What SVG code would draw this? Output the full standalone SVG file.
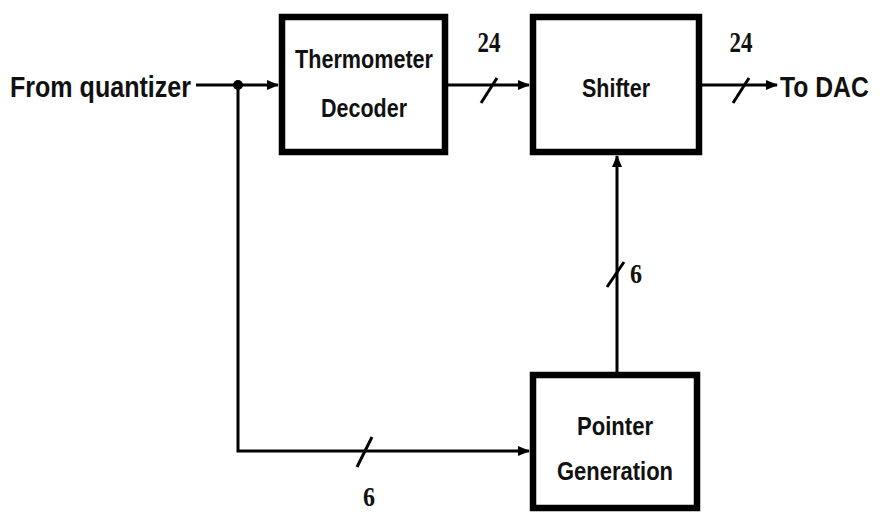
<svg xmlns="http://www.w3.org/2000/svg" width="880" height="512" viewBox="0 0 880 512">
<defs>
<marker id="arr" markerWidth="12" markerHeight="10" refX="11" refY="5" orient="auto" markerUnits="userSpaceOnUse">
<path d="M0,0 L12,5 L0,10 Z" fill="#000"/>
</marker>
<style>
.box{fill:#fff;stroke:#000;stroke-width:6.5}
.ln{fill:none;stroke:#000;stroke-width:3}
.sl{stroke:#000;stroke-width:3}
.lbl{font-family:"Liberation Sans",Arial,sans-serif;font-weight:bold;fill:#111}
.num{font-family:"Liberation Serif","Times New Roman",serif;font-weight:bold;fill:#111}
</style>
</defs>
<rect width="880" height="512" fill="#fff"/>
<g id="connectors">
<line class="ln" x1="196" y1="85" x2="278" y2="85" marker-end="url(#arr)"/>
<circle cx="238" cy="85" r="5" fill="#000"/>
<polyline class="ln" points="238,85 238,451 529,451" marker-end="url(#arr)"/>
<line class="ln" x1="448" y1="85" x2="529" y2="85" marker-end="url(#arr)"/>
<line class="ln" x1="702" y1="85" x2="777" y2="85" marker-end="url(#arr)"/>
<line class="ln" x1="617" y1="372" x2="617" y2="156" marker-end="url(#arr)"/>
<line class="sl" x1="481" y1="103" x2="497" y2="78"/>
<line class="sl" x1="733" y1="103" x2="749" y2="78"/>
<line class="sl" x1="607" y1="287" x2="624" y2="262"/>
<line class="sl" x1="357" y1="467" x2="372" y2="437"/>
<text class="num" x="489" y="52" font-size="30" text-anchor="middle" textLength="23" lengthAdjust="spacingAndGlyphs">24</text>
<text class="num" x="741" y="52" font-size="30" text-anchor="middle" textLength="23" lengthAdjust="spacingAndGlyphs">24</text>
<text class="num" x="636" y="283" font-size="28" text-anchor="middle" textLength="12" lengthAdjust="spacingAndGlyphs">6</text>
<text class="num" x="369" y="506" font-size="28" text-anchor="middle" textLength="12" lengthAdjust="spacingAndGlyphs">6</text>
<text class="lbl" x="10" y="97" font-size="30" textLength="181" lengthAdjust="spacingAndGlyphs">From quantizer</text>
<text class="lbl" transform="translate(780,97) scale(0.95,1.12)" x="0" y="0" font-size="26">To DAC</text>
</g>
<g id="thermometer-decoder">
<rect class="box" x="282" y="17" width="163" height="135"/>
<text class="lbl" x="364" y="68" font-size="25" text-anchor="middle" textLength="138" lengthAdjust="spacingAndGlyphs">Thermometer</text>
<text class="lbl" x="364" y="117" font-size="25" text-anchor="middle" textLength="86" lengthAdjust="spacingAndGlyphs">Decoder</text>
</g>
<g id="shifter">
<rect class="box" x="533" y="17" width="166" height="135"/>
<text class="lbl" x="616" y="97" font-size="25" text-anchor="middle" textLength="68" lengthAdjust="spacingAndGlyphs">Shifter</text>
</g>
<g id="pointer-generation">
<rect class="box" x="533" y="375" width="164" height="133"/>
<text class="lbl" x="615" y="435" font-size="25" text-anchor="middle" textLength="76" lengthAdjust="spacingAndGlyphs">Pointer</text>
<text class="lbl" x="615" y="480" font-size="25" text-anchor="middle" textLength="116" lengthAdjust="spacingAndGlyphs">Generation</text>
</g>
</svg>
